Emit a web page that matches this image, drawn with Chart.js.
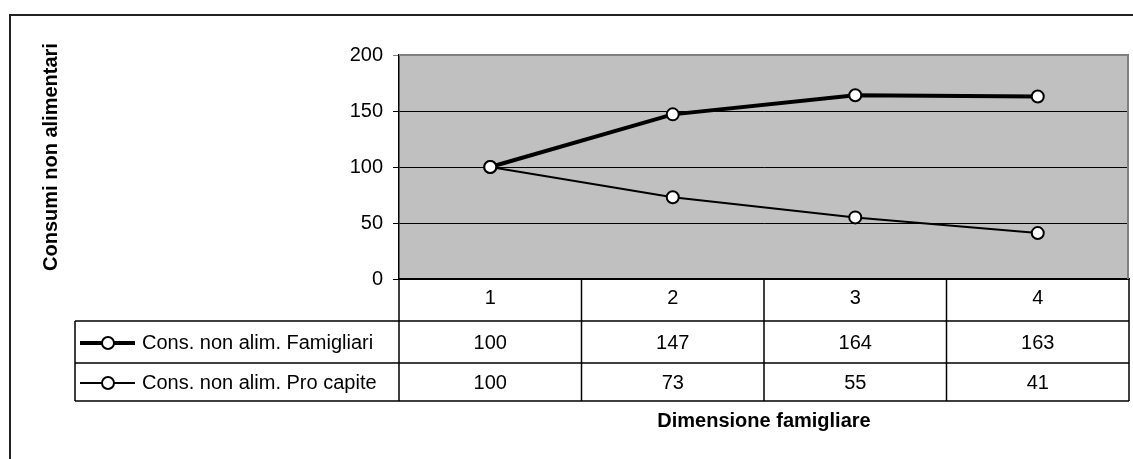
<!DOCTYPE html>
<html><head><meta charset="utf-8">
<script src="https://cdn.jsdelivr.net/npm/chart.js@4"></script>
<style>html,body{margin:0;padding:0;background:#fff;overflow:hidden}#wrap{width:1133px;height:459px}</style>
</head><body><div id="wrap"><canvas id="c" width="1133" height="459"></canvas></div>
<script>
const categories = ['1', '2', '3', '4'];
const famigliari = [100, 147, 164, 163];
const proCapite = [100, 73, 55, 41];
const seriesNames = ['Cons. non alim. Famigliari', 'Cons. non alim. Pro capite'];
const yMin = 0, yMax = 200, yStep = 50;
const yTitle = 'Consumi non alimentari';
const xTitle = 'Dimensione famigliare';

const FONT = '"Liberation Sans", Arial, sans-serif';
const FS = 20;
const seriesData = [famigliari, proCapite];
const seriesWidths = [4, 2];

const tablePlugin = {
  id: 'tablePlugin',
  beforeDraw(chart) {
    const {ctx, chartArea: a} = chart;
    ctx.save();
    ctx.fillStyle = '#fff';
    ctx.fillRect(0, 0, chart.width, chart.height);
    ctx.fillStyle = '#C0C0C0';
    ctx.fillRect(a.left, a.top, a.right - a.left, a.bottom - a.top);
    ctx.restore();
  },
  afterDraw(chart) {
    const {ctx, chartArea: a} = chart;
    const xs = chart.scales.x;
    const centers = categories.map((c, i) => xs.getPixelForValue(i));
    const half = (centers[1] - centers[0]) / 2;
    const bounds = centers.map(c => c - half).concat([centers[centers.length - 1] + half]);
    const headerBottom = a.bottom + 42;
    const row1Bottom = headerBottom + 42;
    const row2Bottom = row1Bottom + 38;
    const tableLeft = 75;
    ctx.save();
    ctx.strokeStyle = '#808080';
    ctx.lineWidth = 2;
    ctx.beginPath();
    ctx.moveTo(a.left, a.top); ctx.lineTo(a.right - 1, a.top); ctx.lineTo(a.right - 1, a.bottom);
    ctx.stroke();
    ctx.strokeStyle = '#000';
    ctx.lineWidth = 1.5;
    ctx.beginPath();
    [headerBottom, row1Bottom, row2Bottom].forEach(y => {
      ctx.moveTo(tableLeft, y); ctx.lineTo(a.right, y);
    });
    bounds.forEach(x => {
      ctx.moveTo(x, a.bottom); ctx.lineTo(x, row2Bottom);
    });
    ctx.moveTo(tableLeft, headerBottom); ctx.lineTo(tableLeft, row2Bottom);
    ctx.stroke();
    ctx.fillStyle = '#000';
    ctx.font = FS + 'px ' + FONT;
    ctx.textAlign = 'center';
    ctx.textBaseline = 'middle';
    const rowY = [(headerBottom + row1Bottom) / 2 + 1, (row1Bottom + row2Bottom) / 2 + 1];
    seriesData.forEach((arr, r) => {
      arr.forEach((v, i) => ctx.fillText(String(v), centers[i], rowY[r]));
    });
    seriesNames.forEach((name, r) => {
      const y = rowY[r];
      ctx.strokeStyle = '#000';
      ctx.lineWidth = seriesWidths[r];
      ctx.beginPath(); ctx.moveTo(80, y); ctx.lineTo(135, y); ctx.stroke();
      ctx.beginPath(); ctx.arc(108, y, 6, 0, Math.PI * 2);
      ctx.fillStyle = '#fff'; ctx.fill();
      ctx.lineWidth = 2; ctx.stroke();
      ctx.fillStyle = '#000';
      ctx.textAlign = 'left';
      ctx.fillText(name, 142, y);
    });
    ctx.save();
    ctx.translate(51, 157);
    ctx.rotate(-Math.PI / 2);
    ctx.font = 'bold ' + FS + 'px ' + FONT;
    ctx.textAlign = 'center';
    ctx.textBaseline = 'middle';
    ctx.fillText(yTitle, 0, 0);
    ctx.restore();
    ctx.strokeStyle = '#222';
    ctx.lineWidth = 2;
    ctx.beginPath();
    ctx.moveTo(10, chart.height); ctx.lineTo(10, 15); ctx.lineTo(chart.width, 15);
    ctx.stroke();
    ctx.restore();
  }
};

new Chart(document.getElementById('c'), {
  type: 'line',
  data: {
    labels: categories,
    datasets: seriesNames.map((name, r) => ({
      label: name,
      data: seriesData[r],
      borderColor: '#000',
      borderWidth: seriesWidths[r],
      pointRadius: 6,
      pointHoverRadius: 6,
      pointBorderWidth: 2,
      pointBackgroundColor: '#fff',
      pointBorderColor: '#000',
      tension: 0,
      fill: false
    }))
  },
  options: {
    responsive: false,
    animation: false,
    devicePixelRatio: 1,
    layout: {autoPadding: false, padding: {left: 0, top: 55, right: 4, bottom: 0}},
    plugins: {legend: {display: false}, tooltip: {enabled: false}},
    scales: {
      x: {
        type: 'category',
        offset: true,
        grid: {display: false, drawTicks: false},
        border: {display: true, color: '#000', width: 1.5},
        ticks: {color: '#000', font: {family: FONT, size: FS}, padding: 7, maxRotation: 0},
        title: {display: true, text: xTitle, color: '#000', font: {family: FONT, size: FS, weight: 'bold'}, padding: {bottom: 26, top: 0}},
        afterFit(s) { s.height = 180; s.paddingLeft = 0; s.paddingRight = 0; }
      },
      y: {
        min: yMin, max: yMax,
        ticks: {stepSize: yStep, color: '#000', font: {family: FONT, size: FS}, padding: 10},
        grid: {
          color: c => (c.tick && c.tick.value === yMax) ? '#808080' : '#000',
          lineWidth: 1, tickLength: 6, drawTicks: true
        },
        border: {display: true, color: '#000', width: 1.5},
        title: {display: false, text: yTitle},
        afterFit(s) { s.width = 399; }
      }
    }
  },
  plugins: [tablePlugin]
});
</script>
</body></html>
